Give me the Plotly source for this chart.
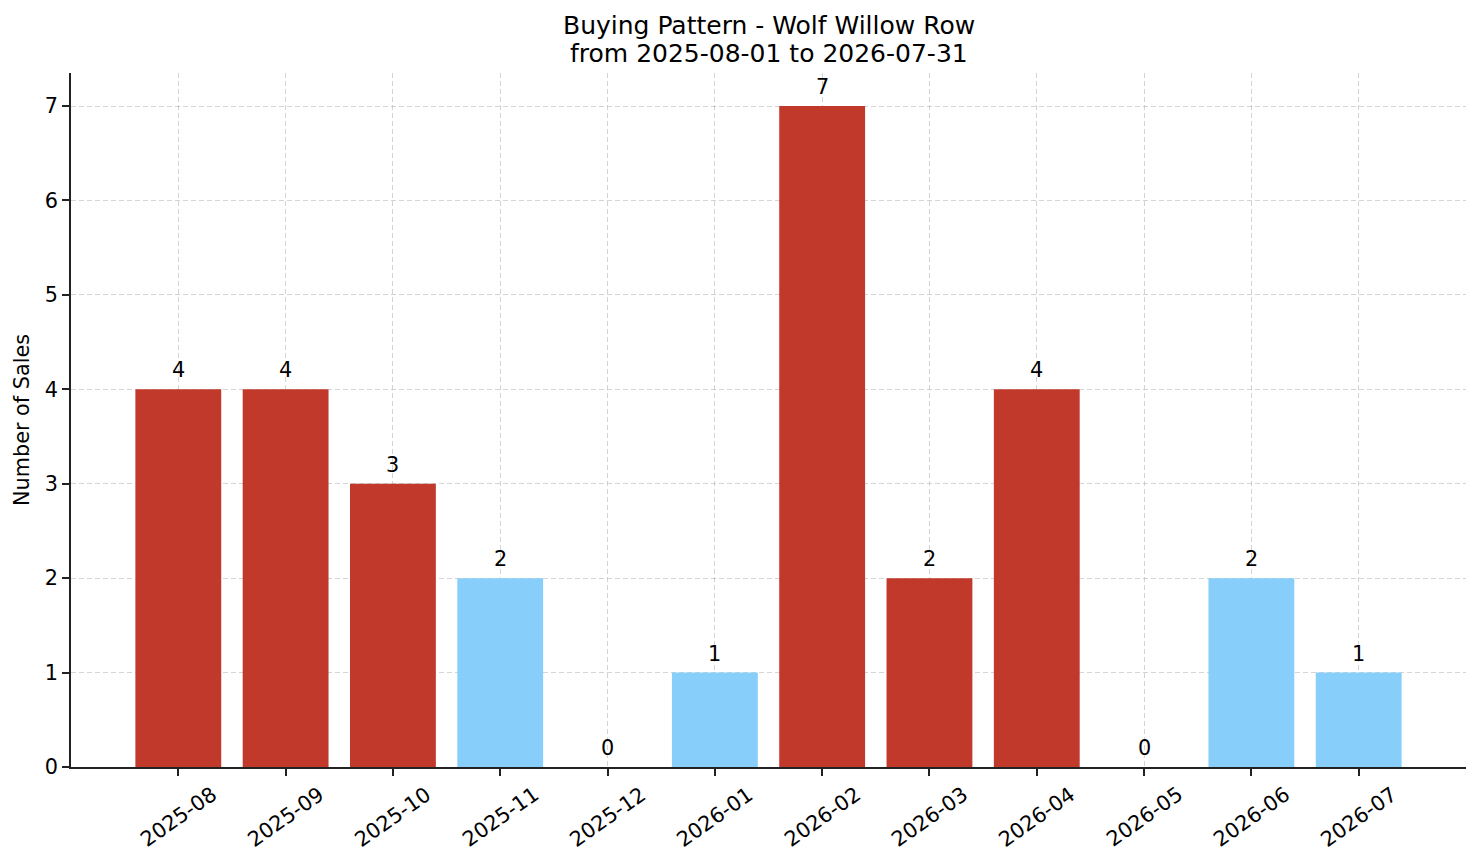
import plotly.graph_objects as go

months = ["2025-08", "2025-09", "2025-10", "2025-11", "2025-12", "2026-01",
          "2026-02", "2026-03", "2026-04", "2026-05", "2026-06", "2026-07"]
sales = [4, 4, 3, 2, 0, 1, 7, 2, 4, 0, 2, 1]

RED = "#c0392b"
BLUE = "#87cefa"
# colour per month as in the original chart
bar_colors = [RED, RED, RED, BLUE, BLUE, BLUE, RED, RED, RED, BLUE, BLUE, BLUE]
idx = list(range(len(months)))

title_lines = ["Buying Pattern - Wolf Willow Row", "from 2025-08-01 to 2026-07-31"]

FS = 20.8  # 10pt at 150 dpi

fig = go.Figure()
fig.add_trace(go.Bar(
    x=idx,
    y=sales,
    width=0.8,
    marker=dict(color=bar_colors, line=dict(width=0)),
    hoverinfo="skip",
))

# value labels above bars
for i, v in zip(idx, sales):
    fig.add_annotation(
        x=i, y=v, text=str(v),
        showarrow=False, yanchor="bottom", yshift=5,
        font=dict(size=FS, color="black"),
    )

# rotated month labels centred on their ticks (matplotlib style)
for i, m in zip(idx, months):
    fig.add_annotation(
        x=i, xref="x", y=0, yref="paper", text=m,
        showarrow=False, textangle=-35,
        xanchor="center", yanchor="top", yshift=-12,
        font=dict(size=FS, color="black"),
    )

# two-line title
for k, line in enumerate(reversed(title_lines)):
    fig.add_annotation(
        x=0.5, xref="paper", y=1, yref="paper", text=line,
        showarrow=False, xanchor="center", yanchor="bottom",
        yshift=3 + 28 * k,
        font=dict(size=25, color="black"),
    )

# body has an 8px margin in the page, so the figure is sized to fit
fig.update_layout(
    width=1473,
    height=855,
    plot_bgcolor="white",
    paper_bgcolor="white",
    font=dict(family="DejaVu Sans", color="black"),
    margin=dict(l=63, r=15, t=65, b=96),
    showlegend=False,
)

grid = dict(showgrid=True, gridcolor="rgba(170,170,170,0.5)", griddash="5px,3px", gridwidth=1)
axis_style = dict(
    ticks="outside", ticklen=7, tickwidth=1.6, tickcolor="#222",
    showline=True, linecolor="#222", linewidth=1.6,
    zeroline=False, automargin=False, layer="above traces",
    tickfont=dict(size=FS),
)

fig.update_xaxes(
    range=[-1, 12],
    tickmode="array",
    tickvals=idx,
    showticklabels=False,
    **grid, **axis_style,
)
fig.update_yaxes(
    range=[0, 7.35],
    dtick=1,
    title=dict(text="Number of Sales", font=dict(size=FS), standoff=10),
    **grid, **axis_style,
)

fig.write_html("out.html")
